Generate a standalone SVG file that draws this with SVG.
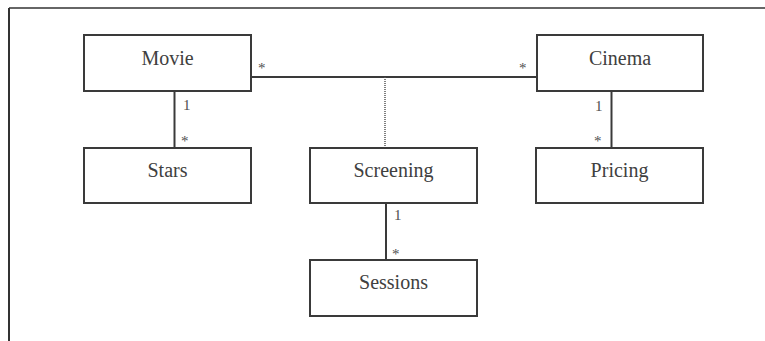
<svg xmlns="http://www.w3.org/2000/svg" width="765" height="341" viewBox="0 0 765 341">
  <style>
    .box { fill: #ffffff; stroke: #3a3a3a; stroke-width: 2; }
    .name { font-family: "Liberation Serif", "Times New Roman", serif; font-size: 20px; fill: #404040; text-anchor: middle; }
    .mult { font-family: "Liberation Serif", "Times New Roman", serif; font-size: 15px; fill: #505050; }
    .link { stroke: #3a3a3a; stroke-width: 2; fill: none; }
    .dotted { stroke: #555555; stroke-width: 1.5; stroke-dasharray: 1 1; fill: none; }
    .frame { stroke: #333333; fill: none; }
  </style>
  <rect width="765" height="341" fill="#ffffff"/>

  <!-- frame edges -->
  <line class="frame" x1="9" y1="8" x2="765" y2="8" stroke-width="1.5"/>
  <line class="frame" x1="9" y1="8" x2="9" y2="341" stroke-width="2"/>

  <g id="connectors">
    <line class="link" x1="251" y1="77" x2="537" y2="77"/>
    <line class="dotted" x1="385" y1="77" x2="385" y2="148"/>
    <line class="link" x1="174.5" y1="91" x2="174.5" y2="148"/>
    <line class="link" x1="611.5" y1="91" x2="611.5" y2="148"/>
    <line class="link" x1="386" y1="203" x2="386" y2="260"/>
    <text class="mult" x="258" y="73">*</text>
    <text class="mult" x="519" y="73">*</text>
    <text class="mult" x="183" y="110">1</text>
    <text class="mult" x="181" y="146">*</text>
    <text class="mult" x="595" y="111">1</text>
    <text class="mult" x="594" y="146">*</text>
    <text class="mult" x="394" y="220">1</text>
    <text class="mult" x="392" y="259">*</text>
  </g>

  <g id="movie">
    <rect class="box" x="84" y="35" width="167" height="56"/>
    <text class="name" x="167.5" y="65">Movie</text>
  </g>
  <g id="cinema">
    <rect class="box" x="537" y="35" width="166" height="56"/>
    <text class="name" x="620" y="65">Cinema</text>
  </g>
  <g id="stars">
    <rect class="box" x="84" y="148" width="167" height="55"/>
    <text class="name" x="167.5" y="177">Stars</text>
  </g>
  <g id="screening">
    <rect class="box" x="310" y="148" width="167" height="55"/>
    <text class="name" x="393.5" y="177">Screening</text>
  </g>
  <g id="pricing">
    <rect class="box" x="536" y="148" width="167" height="55"/>
    <text class="name" x="619.5" y="177">Pricing</text>
  </g>
  <g id="sessions">
    <rect class="box" x="310" y="260" width="167" height="56"/>
    <text class="name" x="393.5" y="289">Sessions</text>
  </g>
</svg>
